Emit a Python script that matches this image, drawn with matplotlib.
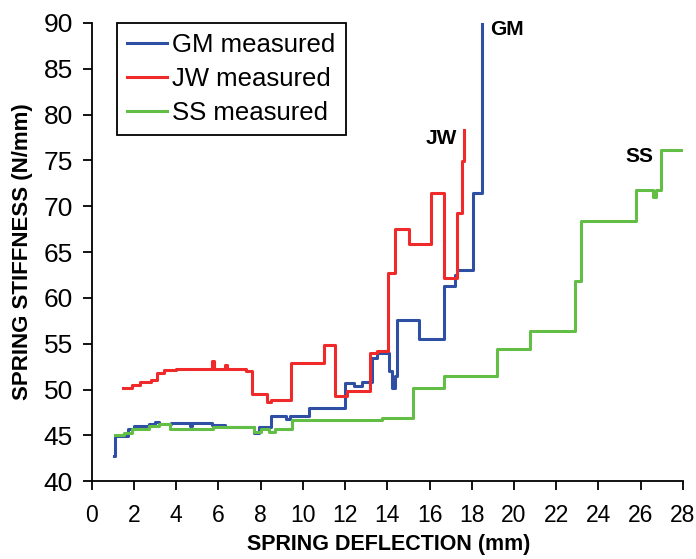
import numpy as np
import matplotlib.pyplot as plt

# step breakpoints: deflection (mm) and stiffness (N/mm) held until next point
gm_x = [1.05, 1.1, 1.7, 2.0, 2.7, 3.0, 3.2, 3.76, 4.63, 4.75, 5.7, 6.3, 7.7, 7.9,
        8.5, 9.2, 9.4, 10.3, 12.0, 12.4, 12.8, 13.27, 13.5, 14.07, 14.2, 14.35,
        14.47, 15.5, 16.67, 17.2, 17.3, 18.04, 18.5, 18.5]
gm_y = [42.8, 44.9, 45.7, 46.0, 46.2, 46.5, 46.2, 46.4, 46.0, 46.4, 46.1, 45.9, 45.3, 45.9,
        47.1, 46.8, 47.1, 48.0, 50.7, 50.4, 50.8, 53.5, 54.0, 52.0, 50.2, 51.5,
        57.6, 55.5, 61.3, 62.5, 63.1, 71.5, 90.0, 90.0]

jw_x = [1.48, 1.9, 2.3, 2.8, 3.1, 3.4, 4.0, 5.7, 5.78, 6.33, 6.4, 7.3, 7.6, 8.3, 8.5,
        9.43, 11.0, 11.52, 12.1, 13.2, 13.5, 14.02, 14.38, 15.05, 16.08, 16.67,
        17.3, 17.55, 17.64, 17.64]
jw_y = [50.2, 50.5, 50.8, 51.0, 51.8, 52.1, 52.2, 53.1, 52.2, 52.7, 52.2, 52.0, 49.5, 48.6, 48.9,
        52.9, 54.9, 49.3, 49.9, 54.0, 54.2, 62.7, 67.5, 65.9, 71.4, 62.2,
        69.3, 74.9, 78.3, 78.3]

ss_x = [1.1, 1.5, 1.9, 2.7, 3.2, 3.68, 5.73, 7.7, 8.0, 8.4, 8.7, 9.5, 13.75, 15.2,
        16.7, 19.18, 20.76, 22.88, 23.2, 25.8, 26.6, 26.74, 26.97, 27.92]
ss_y = [45.0, 45.3, 45.7, 46.0, 46.2, 45.7, 45.9, 45.4, 45.7, 45.4, 45.7, 46.7, 46.9, 50.2,
        51.5, 54.45, 56.4, 61.8, 68.35, 71.8, 71.0, 71.8, 76.1, 76.1]

names = ['GM measured', 'JW measured', 'SS measured']
colors = ['#2f4fa5', '#f02a2a', '#62be44']

plt.rcParams['font.family'] = ['Liberation Sans', 'DejaVu Sans']

fig = plt.figure(figsize=(6.96, 5.59), dpi=100)
ax = fig.add_axes([0.132, 0.139, 0.849, 0.820])

for xs, ys, name, c in zip([gm_x, jw_x, ss_x], [gm_y, jw_y, ss_y], names, colors):
    ax.plot(xs, ys, drawstyle='steps-post', color=c, lw=2.2, label=name)

# end labels next to each curve
ax.text(18.87, 89.3, 'GM', fontsize=15, fontweight='bold', ha='left', va='center')
ax.text(17.3, 77.4, 'JW', fontsize=15, fontweight='bold', ha='right', va='center')
ax.text(26.63, 75.4, 'SS', fontsize=15, fontweight='bold', ha='right', va='center')

ax.set_xlim(0, 28)
ax.set_ylim(40, 90)
ax.set_xticks(np.arange(0, 29, 2))
ax.set_yticks(np.arange(40, 91, 5))
ax.spines['top'].set_visible(False)
ax.spines['right'].set_visible(False)
for s in ['left', 'bottom']:
    ax.spines[s].set_linewidth(1.3)
ax.tick_params(direction='out', length=6.5, width=1.3)
ax.tick_params(axis='x', pad=10, labelsize=16.5)
ax.tick_params(axis='y', pad=7, labelsize=19)

ax.set_xlabel('SPRING DEFLECTION (mm)', fontsize=15.5, fontweight='bold')
ax.set_ylabel('SPRING STIFFNESS (N/mm)', fontsize=16, fontweight='bold')
ax.xaxis.set_label_coords(0.503, -0.115)
ax.yaxis.set_label_coords(-0.1, 0.5)

leg = ax.legend(loc='upper left', bbox_to_anchor=(0.042, 1.0), fontsize=18.5, fancybox=False,
                framealpha=1, edgecolor='black', handlelength=1.56, handletextpad=0.2,
                labelspacing=0.38, borderpad=0.4, borderaxespad=0)
leg.get_frame().set_linewidth(1.3)

fig.savefig('out.png', dpi=100)
